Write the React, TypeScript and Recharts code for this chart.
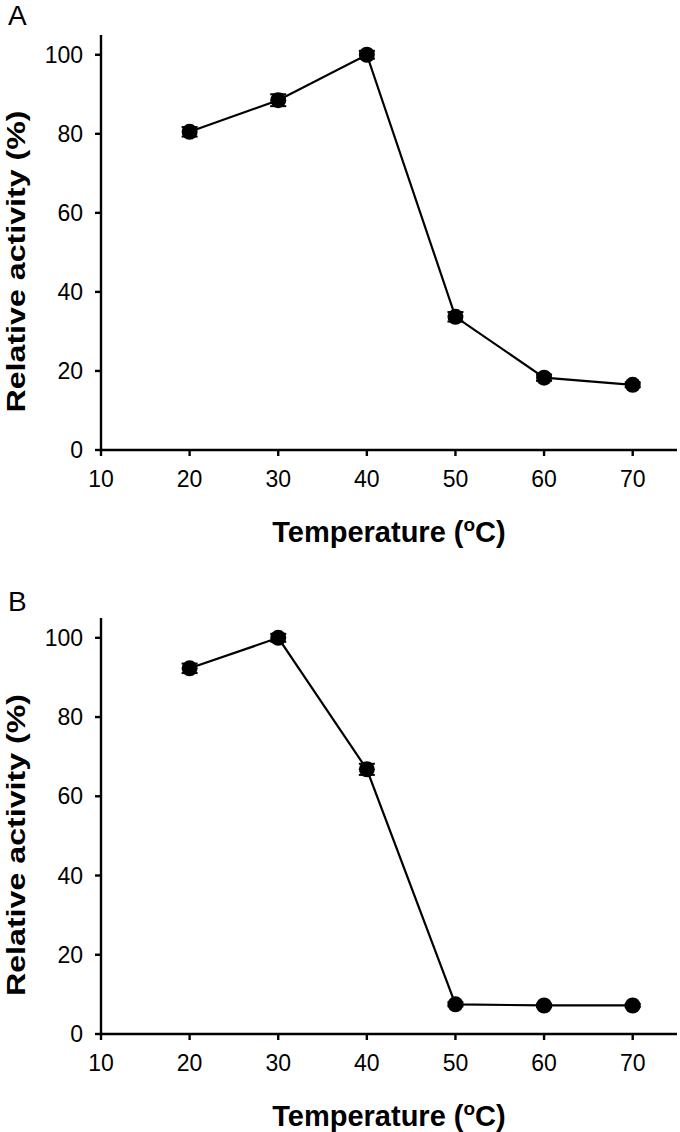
import React from "react"
import {
  LineChart,
  Line,
  XAxis,
  YAxis,
  ErrorBar,
  Label,
} from "recharts"

// temperature (°C) on the x axis
const temps = [20, 30, 40, 50, 60, 70]

// panel A
const activityA = [80.5, 88.5, 100, 33.7, 18.3, 16.5]
const errorA = [1.2, 1.5, 1.0, 1.2, 0.8, 0.6]

// panel B
const activityB = [92.3, 100, 66.8, 7.5, 7.2, 7.2]
const errorB = [1.2, 1.0, 1.4, 0.5, 0.4, 0.4]

const xTicks = [10, 20, 30, 40, 50, 60, 70]
const yTicks = [0, 20, 40, 60, 80, 100]

const FONT = "'Liberation Sans', Arial, Helvetica, sans-serif"
const INK = "#000"

function buildRows(values: number[], errors: number[]) {
  return temps.map((t, i) => ({ temp: t, activity: values[i], err: errors[i] }))
}

function XLabel({ viewBox }: any) {
  const cx = viewBox.x + viewBox.width / 2
  return (
    <text
      x={cx}
      y={viewBox.y + 92}
      textAnchor="middle"
      fontFamily={FONT}
      fontWeight="bold"
      fontSize={29}
      fill={INK}
    >
      <tspan>Temperature (</tspan>
      <tspan dy={-11} fontSize={19}>o</tspan>
      <tspan dy={11}>C)</tspan>
    </text>
  )
}

function makeYLabel(letter: string, letterY: number) {
  return function YLabel({ viewBox }: any) {
    const cy = viewBox.y + viewBox.height / 2 + 19
    return (
      <g>
        <text
          x={25}
          y={cy}
          transform={`rotate(-90 25 ${cy})`}
          textAnchor="middle"
          fontFamily={FONT}
          fontWeight="bold"
          fontSize={26}
          textLength={302}
          lengthAdjust="spacingAndGlyphs"
          fill={INK}
        >
          Relative activity (%)
        </text>
        <text x={8} y={letterY} fontFamily={FONT} fontSize={28} fill={INK}>
          {letter}
        </text>
      </g>
    )
  }
}

function Dot(props: any) {
  const { cx, cy } = props
  if (cx == null || cy == null) return null
  return <circle cx={cx} cy={cy} r={8} fill={INK} />
}

const tickStyle = { fill: INK, fontSize: 23, fontFamily: FONT }
const axisStroke = { stroke: INK, strokeWidth: 2.4 }

function Panel({
  values,
  errors,
  letter,
  top,
  xHeight,
  letterY,
}: {
  values: number[]
  errors: number[]
  letter: string
  top: number
  xHeight: number
  letterY: number
}) {
  const rows = buildRows(values, errors)
  return (
    <LineChart
      width={680}
      height={566}
      data={rows}
      margin={{ top, right: 3, bottom: 0, left: 0 }}
    >
      <XAxis
        dataKey="temp"
        type="number"
        domain={[10, 75]}
        ticks={xTicks}
        allowDataOverflow
        height={xHeight}
        tick={tickStyle}
        tickSize={6}
        tickMargin={15}
        axisLine={axisStroke}
        tickLine={axisStroke}
      >
        <Label content={<XLabel />} />
      </XAxis>
      <XAxis
        xAxisId="top"
        orientation="top"
        dataKey="temp"
        type="number"
        domain={[10, 75]}
        height={0}
        tick={false}
        tickLine={false}
        axisLine={axisStroke}
      />
      <YAxis
        type="number"
        domain={[0, 105]}
        ticks={yTicks}
        allowDataOverflow
        width={101}
        tick={tickStyle}
        tickSize={6}
        tickMargin={12}
        axisLine={axisStroke}
        tickLine={axisStroke}
      >
        <Label content={makeYLabel(letter, letterY)} />
      </YAxis>
      <YAxis
        yAxisId="right"
        orientation="right"
        type="number"
        domain={[0, 105]}
        width={0}
        tick={false}
        tickLine={false}
        axisLine={axisStroke}
      />
      <Line
        dataKey="activity"
        stroke={INK}
        strokeWidth={2.2}
        dot={<Dot />}
        activeDot={false}
        isAnimationActive={false}
      >
        <ErrorBar
          dataKey="err"
          direction="y"
          width={8}
          stroke={INK}
          strokeWidth={2}
          isAnimationActive={false}
        />
      </Line>
    </LineChart>
  )
}

export default function App() {
  return (
    <div
      style={{
        position: "absolute",
        left: 0,
        top: 0,
        width: 680,
        height: 1132,
        background: "#fff",
      }}
    >
      <Panel values={activityA} errors={errorA} letter="A" top={35} xHeight={116} letterY={25} />
      <Panel values={activityB} errors={errorB} letter="B" top={52} xHeight={98} letterY={45} />
    </div>
  )
}
